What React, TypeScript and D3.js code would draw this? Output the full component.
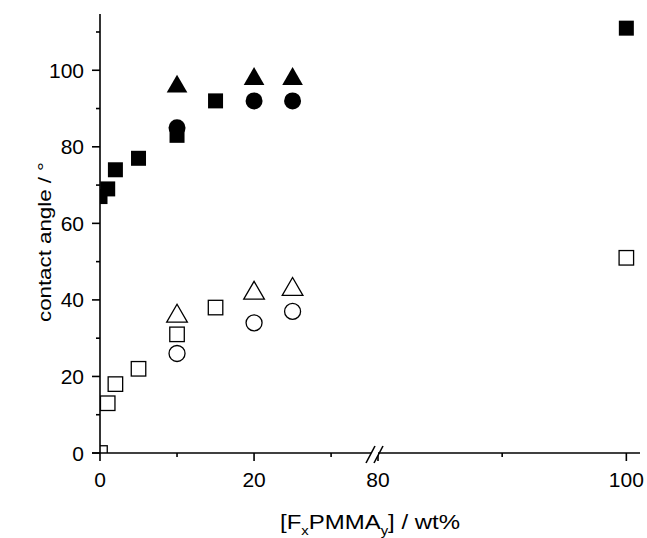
import { useEffect, useRef } from "react"
import * as d3 from "d3"

// wt% and contact angle (degrees)
const sqX = [0, 1, 2, 5, 10, 15, 100]
const sqFilled = [67, 69, 74, 77, 83, 92, 111]
const sqOpen = [0, 13, 18, 22, 31, 38, 51]

const otherX = [10, 20, 25]
const triFilled = [96, 98, 98]
const circFilled = [85, 92, 92]
const triOpen = [36, 42, 43]
const circOpen = [26, 34, 37]

const xMajor = [0, 20, 80, 100]
const xMinor = [10, 30, 90]
const yMajor = [0, 20, 40, 60, 80, 100]
const yMinor = [10, 30, 50, 70, 90, 110]

export default function App() {
  const svgRef = useRef<SVGSVGElement>(null)

  useEffect(() => {
    if (!svgRef.current) return
    const width = 647
    const height = 538

    const svg = d3.select(svgRef.current).attr("width", width).attr("height", height)
    svg.selectAll("*").remove()

    // broken axis: 0..35.7 on the left, 80..101 on the right
    const x = d3.scaleLinear().domain([0, 35.7, 80, 101.1]).range([100, 375, 378, 640])
    const y = d3.scaleLinear().domain([0, 114.7]).range([453, 14])

    const font = "Liberation Sans, Arial, sans-serif"

    svg.append("defs").append("clipPath").attr("id", "plot")
      .append("rect").attr("x", 100).attr("y", 14).attr("width", 540).attr("height", 439)

    const g = svg.append("g").attr("clip-path", "url(#plot)")

    const pts = (xs: number[], ys: number[]) => xs.map((d, i) => [x(d), y(ys[i])])

    const drawSquares = (data: number[][], filled: boolean) => {
      const s = filled ? 15 : 14.5
      g.selectAll(null).data(data).enter().append("rect")
        .attr("x", (d) => d[0] - s / 2)
        .attr("y", (d) => d[1] - s / 2)
        .attr("width", s).attr("height", s)
        .attr("fill", filled ? "#000" : "#fff")
        .attr("stroke", "#000").attr("stroke-width", filled ? 0 : 1.3)
    }
    const drawCircles = (data: number[][], filled: boolean) => {
      g.selectAll(null).data(data).enter().append("circle")
        .attr("cx", (d) => d[0]).attr("cy", (d) => d[1])
        .attr("r", filled ? 8.5 : 8)
        .attr("fill", filled ? "#000" : "#fff")
        .attr("stroke", "#000").attr("stroke-width", filled ? 0 : 1.3)
    }
    const tri = d3.symbol().type(d3.symbolTriangle).size(185)
    const drawTriangles = (data: number[][], filled: boolean) => {
      g.selectAll(null).data(data).enter().append("path")
        .attr("d", tri)
        .attr("transform", (d) => `translate(${d[0]},${d[1] + 1})`)
        .attr("fill", filled ? "#000" : "#fff")
        .attr("stroke", "#000").attr("stroke-width", filled ? 0 : 1.3)
    }

    drawSquares(pts(sqX, sqOpen), false)
    drawTriangles(pts(otherX, triOpen), false)
    drawCircles(pts(otherX, circOpen), false)
    drawSquares(pts(sqX, sqFilled), true)
    drawTriangles(pts(otherX, triFilled), true)
    drawCircles(pts(otherX, circFilled), true)

    const ax = svg.append("g").attr("stroke", "#000").attr("stroke-width", 1.6)
    // axis lines
    ax.append("line").attr("x1", 100).attr("x2", 100).attr("y1", 14).attr("y2", 453)
    ax.append("line").attr("x1", 92).attr("x2", 640).attr("y1", 453).attr("y2", 453)

    ax.selectAll(null).data(xMajor).enter().append("line")
      .attr("x1", (d) => x(d)).attr("x2", (d) => x(d)).attr("y1", 453).attr("y2", 461)
    ax.selectAll(null).data(xMinor).enter().append("line")
      .attr("x1", (d) => x(d)).attr("x2", (d) => x(d)).attr("y1", 453).attr("y2", 457)
    ax.selectAll(null).data(yMajor).enter().append("line")
      .attr("x1", 92).attr("x2", 100).attr("y1", (d) => y(d)).attr("y2", (d) => y(d))
    ax.selectAll(null).data(yMinor).enter().append("line")
      .attr("x1", 96).attr("x2", 100).attr("y1", (d) => y(d)).attr("y2", (d) => y(d))

    // break marks
    const bx = x(35.7)
    ax.append("rect").attr("x", bx - 4).attr("y", 449).attr("width", 7).attr("height", 8)
      .attr("fill", "#fff").attr("stroke", "none")
    ax.append("line").attr("x1", bx - 9).attr("y1", 463).attr("x2", bx).attr("y2", 446)
    ax.append("line").attr("x1", bx - 1).attr("y1", 463).attr("x2", bx + 8).attr("y2", 446)

    svg.selectAll(null).data(xMajor).enter().append("text")
      .attr("x", (d) => x(d)).attr("y", 487)
      .attr("text-anchor", "middle")
      .attr("font-family", font).attr("font-size", 21)
      .text((d) => d)

    svg.selectAll(null).data(yMajor).enter().append("text")
      .attr("x", 84).attr("y", (d) => y(d)).attr("dy", "0.36em")
      .attr("text-anchor", "end")
      .attr("font-family", font).attr("font-size", 21)
      .text((d) => d)

    svg.append("text")
      .attr("transform", `translate(51,242) rotate(-90)`)
      .attr("text-anchor", "middle")
      .attr("font-family", font).attr("font-size", 19)
      .attr("textLength", 160).attr("lengthAdjust", "spacingAndGlyphs")
      .text("contact angle / °")

    const xl = svg.append("text")
      .attr("x", 370).attr("y", 529)
      .attr("text-anchor", "middle")
      .attr("font-family", font).attr("font-size", 21)
      .attr("textLength", 180).attr("lengthAdjust", "spacingAndGlyphs")
    xl.append("tspan").text("[F")
    xl.append("tspan").attr("dy", 6).attr("font-size", 13).text("x")
    xl.append("tspan").attr("dy", -6).text("PMMA")
    xl.append("tspan").attr("dy", 6).attr("font-size", 13).text("y")
    xl.append("tspan").attr("dy", -6).text("] / wt%")
  }, [])

  return (
    <svg
      ref={svgRef}
      style={{ position: "absolute", left: 0, top: 0, background: "#fff" }}
    />
  )
}
